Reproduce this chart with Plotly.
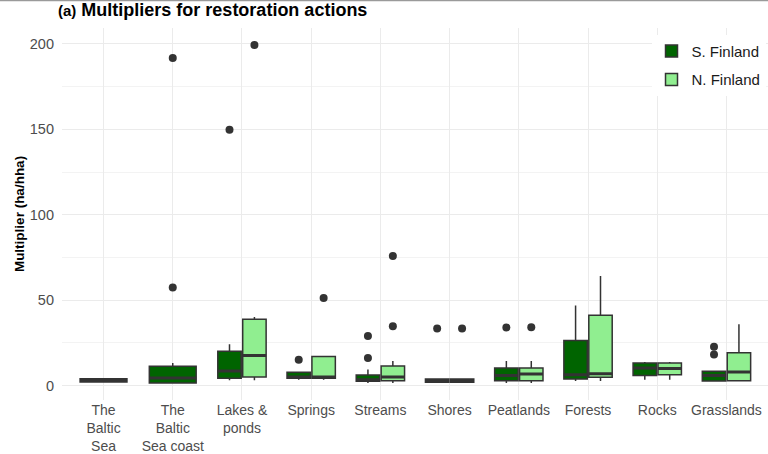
import plotly.graph_objects as go

# categories and tick labels
categories = ["The Baltic Sea", "The Baltic Sea coast", "Lakes & ponds", "Springs", "Streams",
              "Shores", "Peatlands", "Forests", "Rocks", "Grasslands"]
tick_labels = ["The<br>Baltic<br>Sea", "The<br>Baltic<br>Sea coast", "Lakes &amp;<br>ponds",
               "Springs", "Streams", "Shores", "Peatlands", "Forests", "Rocks", "Grasslands"]

# habitats with only S. Finland data (drawn full width)
single_cats = ["The Baltic Sea coast", "The Baltic Sea"]
single_q1 = [1.5, 2.2]
single_median = [4.5, 3.0]
single_q3 = [11.3, 4.0]
single_low = [1.5, 2.0]
single_high = [13.2, 4.5]
single_out = [[57.4, 191.7], []]

# habitats with both regions
pair_cats = ["Lakes & ponds", "Springs", "Streams", "Shores", "Peatlands", "Forests", "Rocks", "Grasslands"]

s_q1 = [4.3, 4.3, 2.5, 2.0, 2.9, 3.9, 6.0, 2.7]
s_median = [8.6, 5.0, 3.5, 3.0, 6.0, 6.4, 10.3, 5.9]
s_q3 = [20.1, 7.8, 6.2, 3.9, 10.3, 26.4, 13.2, 8.4]
s_low = [3.1, 3.5, 1.5, 2.0, 1.5, 2.7, 3.5, 2.7]
s_high = [24.2, 7.8, 9.4, 3.9, 14.4, 46.9, 13.8, 8.4]
s_out = [[149.8], [15.2], [16.2, 29.1], [33.4], [34.0], [], [], [18.2, 22.8]]

n_q1 = [5.0, 4.3, 2.9, 2.0, 2.9, 4.9, 6.4, 2.9]
n_median = [17.6, 5.0, 5.0, 3.0, 6.8, 7.0, 10.0, 8.0]
n_q3 = [38.8, 17.0, 11.5, 3.9, 10.3, 41.2, 13.2, 19.3]
n_low = [3.1, 3.5, 1.5, 2.0, 1.5, 2.7, 3.5, 2.9]
n_high = [40.2, 17.0, 14.4, 3.9, 14.4, 64.2, 13.8, 35.9]
n_out = [[199.4], [51.3], [34.7, 75.9], [33.4], [34.2], [], [], []]

DARK = "#006400"
LIGHT = "#90EE90"
EDGE = "#333333"
FONT = "Liberation Sans, Arial, sans-serif"

fig = go.Figure()

box_style = dict(boxpoints="outliers", pointpos=0, jitter=0, whiskerwidth=0,
                 line=dict(color=EDGE, width=1.5),
                 marker=dict(color=EDGE, size=8, line=dict(width=0)))

fig.add_trace(go.Box(
    name="S. Finland", x=pair_cats, y=s_out,
    q1=s_q1, median=s_median, q3=s_q3, lowerfence=s_low, upperfence=s_high,
    fillcolor=DARK, legendgroup="s", alignmentgroup="pair", offsetgroup="s",
    **box_style))

fig.add_trace(go.Box(
    name="N. Finland", x=pair_cats, y=n_out,
    q1=n_q1, median=n_median, q3=n_q3, lowerfence=n_low, upperfence=n_high,
    fillcolor=LIGHT, legendgroup="n", alignmentgroup="pair", offsetgroup="n",
    **box_style))

# own alignment group so these boxes take the whole slot
fig.add_trace(go.Box(
    name="S. Finland", x=single_cats, y=single_out,
    q1=single_q1, median=single_median, q3=single_q3,
    lowerfence=single_low, upperfence=single_high,
    fillcolor=DARK, showlegend=False, alignmentgroup="single", offsetgroup="single",
    **box_style))

# thick median bars like ggplot (flat boxes in the same slots)
for cats, med, ag, og in [(pair_cats, s_median, "pair", "s"),
                          (pair_cats, n_median, "pair", "n"),
                          (single_cats, single_median, "single", "single")]:
    fig.add_trace(go.Box(
        x=cats, q1=med, median=med, q3=med, lowerfence=med, upperfence=med,
        boxpoints=False, whiskerwidth=0, fillcolor=EDGE,
        line=dict(color=EDGE, width=3), showlegend=False, hoverinfo="skip",
        alignmentgroup=ag, offsetgroup=og))

fig.update_layout(
    width=768, height=454,
    margin=dict(l=62, r=0, t=28, b=54),
    paper_bgcolor="white", plot_bgcolor="white",
    font=dict(family=FONT, size=13, color="#4D4D4D"),
    boxmode="group", boxgap=0.28, boxgroupgap=0.06,
    title=dict(
        text="<b><span style='font-size:15px'>(a)</span> Multipliers for restoration actions</b>",
        font=dict(family=FONT, size=18, color="black"),
        xref="container", x=58 / 768, xanchor="left",
        yref="container", y=1 - 10 / 454, yanchor="middle"),
    xaxis=dict(type="category", categoryorder="array", categoryarray=categories,
               range=[-0.6, 9.6], tickvals=categories, ticktext=tick_labels,
               showgrid=True, gridcolor="#EBEBEB", gridwidth=1,
               ticks="", showline=False, zeroline=False,
               tickfont=dict(size=14, color="#4D4D4D")),
    yaxis=dict(range=[-8.4, 209.3], tickvals=[0, 50, 100, 150, 200],
               showgrid=True, gridcolor="#EBEBEB", gridwidth=1,
               minor=dict(tickvals=[25, 75, 125, 175], showgrid=True,
                          gridcolor="#F3F3F3", gridwidth=1),
               zeroline=False, ticks="", showline=False, ticklabelstandoff=7,
               tickfont=dict(size=14.5, color="#4D4D4D"),
               title=dict(text="<b>Multiplier (ha/hha)</b>", standoff=2,
                          font=dict(size=13.5, color="black"))),
    legend=dict(x=0.835, xanchor="left", y=0.982, yanchor="top",
                bgcolor="white", font=dict(size=15, color="#1A1A1A"),
                traceorder="grouped", tracegroupgap=6),
    shapes=[dict(type="line", xref="paper", yref="paper",
                 x0=-62 / 706, x1=1, y0=1 + 27.5 / 372, y1=1 + 27.5 / 372,
                 line=dict(color="#9A9A9A", width=1.5))],
)

fig.write_html("out.html", config={"displayModeBar": False},
               post_script="document.body.style.margin='0';")
